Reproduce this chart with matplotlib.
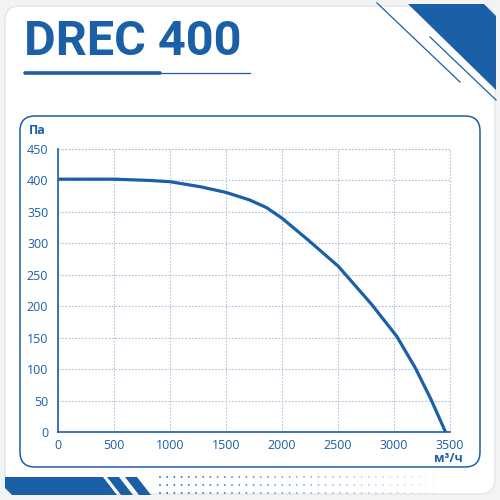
import numpy as np
import matplotlib.pyplot as plt
from matplotlib.patches import FancyBboxPatch, Polygon
from matplotlib.lines import Line2D

# data
flow = [0, 500, 820, 1000, 1270, 1500, 1710, 1860, 2000, 2235, 2500,
        2800, 3025, 3190, 3330, 3460]
pressure = [402, 402, 400, 398, 390, 381, 369, 357, 340, 305, 264,
            203, 152, 102, 52, 0]
x_ticks = [0, 500, 1000, 1500, 2000, 2500, 3000, 3500]
y_ticks = [0, 50, 100, 150, 200, 250, 300, 350, 400, 450]

title = "DREC 400"
y_unit = "Па"
x_unit = "м³/ч"

BLUE = "#1b5fa6"
GRID = "#b4c6de"
DASH = (0, (1.6, 1.4))
W = 500.0


def fx(px):
    return px / W


def fy(py):
    return 1 - py / W


plt.rcParams['font.family'] = ['Open Sans', 'DejaVu Sans']

fig = plt.figure(figsize=(5, 5), dpi=100)
fig.patch.set_facecolor("#f2f3f5")

# card background
card = FancyBboxPatch((fx(5), fy(494)), fx(490), fx(488),
                      boxstyle="round,pad=0,rounding_size=0.03",
                      transform=fig.transFigure, facecolor="white",
                      edgecolor="#e3e6ea", lw=1.0, zorder=-2)
fig.patches.append(card)

# title and underline
fig.text(fx(24), fy(42), title, fontsize=35, fontweight="bold", color=BLUE,
         family=['Roboto', 'DejaVu Sans'], va="center", ha="left")
fig.lines.append(Line2D([fx(25), fx(160)], [fy(73), fy(73)], color=BLUE, lw=2.6,
                        transform=fig.transFigure, solid_capstyle="round"))
fig.lines.append(Line2D([fx(160), fx(250)], [fy(73), fy(73)], color=BLUE, lw=0.9,
                        transform=fig.transFigure))

# top-right corner decoration
tri = Polygon([(fx(408), fy(4)), (fx(484), fy(4)), (fx(496), fy(16)), (fx(496), fy(90))],
              closed=True, transform=fig.transFigure, facecolor=BLUE, edgecolor="none")
fig.patches.append(tri)
fig.lines.append(Line2D([fx(377), fx(460)], [fy(3), fy(82)], color=BLUE, lw=0.9,
                        transform=fig.transFigure))
fig.lines.append(Line2D([fx(430), fx(496)], [fy(37), fy(100)], color=BLUE, lw=0.9,
                        transform=fig.transFigure))

# bottom-left bar and stripes
bar = Polygon([(fx(5), fy(477)), (fx(103), fy(477)), (fx(117), fy(495)),
               (fx(12), fy(495)), (fx(5), fy(488))],
              closed=True, transform=fig.transFigure, facecolor=BLUE, edgecolor="none")
fig.patches.append(bar)
for x0 in [107, 125]:
    stripe = Polygon([(fx(x0), fy(477)), (fx(x0 + 12), fy(477)),
                      (fx(x0 + 26), fy(495)), (fx(x0 + 14), fy(495))],
                     closed=True, transform=fig.transFigure, facecolor=BLUE, edgecolor="none")
    fig.patches.append(stripe)

# dot pattern fading to the right
for row_y in [477, 485, 493]:
    for i, x in enumerate(np.arange(160, 440, 7.2)):
        alpha = max(0.0, 1 - i / 42)
        fig.patches.append(plt.Circle((fx(x), fy(row_y)), fx(0.9), transform=fig.transFigure,
                                      color=BLUE, alpha=alpha, lw=0))

# chart panel frame
panel = FancyBboxPatch((fx(20), fy(467)), fx(460), fx(351),
                       boxstyle="round,pad=0,rounding_size=0.03",
                       transform=fig.transFigure, facecolor="none",
                       edgecolor=BLUE, lw=1.1, zorder=-1)
fig.patches.append(panel)

ax = fig.add_axes([fx(58), fy(432), fx(392), fx(283)])
ax.set_facecolor("none")
ax.plot(flow, pressure, color=BLUE, lw=2.3, solid_capstyle="round",
        solid_joinstyle="round", zorder=3)

ax.set_xlim(0, 3500)
ax.set_ylim(0, 450)
ax.set_xticks(x_ticks)
ax.set_yticks(y_ticks)
ax.grid(True, color=GRID, lw=0.8, linestyle=DASH)
ax.tick_params(length=0, colors=BLUE, labelsize=9, pad=5)
ax.tick_params(axis="y", pad=7)
for s in ["top", "right"]:
    ax.spines[s].set_visible(False)
for s in ["left", "bottom"]:
    ax.spines[s].set_color(BLUE)
    ax.spines[s].set_linewidth(1.2)

# top and right dashed borders to close the grid
ax.axhline(450, color=GRID, lw=0.8, linestyle=DASH, clip_on=False)
ax.axvline(3500, color=GRID, lw=0.8, linestyle=DASH, clip_on=False)

fig.text(fx(29), fy(130), y_unit, fontsize=9, fontweight="bold", color=BLUE,
         va="center", ha="left")
fig.text(fx(463), fy(459), x_unit, fontsize=9, fontweight="bold", color=BLUE,
         va="center", ha="right")

fig.savefig("out.png", dpi=100)
